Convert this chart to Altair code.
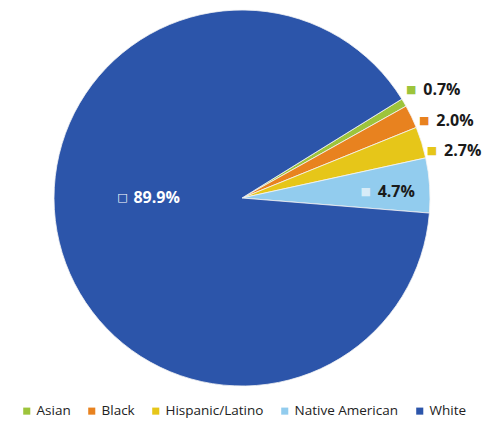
import math
import altair as alt
import pandas as pd

categories = ["Asian", "Black", "Hispanic/Latino", "Native American", "White"]
values = [0.7, 2.0, 2.7, 4.7, 89.9]
labels = ["0.7%", "2.0%", "2.7%", "4.7%", "89.9%"]
stack_order = [1, 2, 3, 4, 0]
colors = ["#9DC43B", "#E8821F", "#E6C619", "#92CCEE", "#2C55AA"]

df = pd.DataFrame({"cat": categories, "value": values, "label": labels, "ord": stack_order})

start = math.radians(94.6)
theta_scale = alt.Scale(domain=[0, 100], range=[start, start + 2 * math.pi])
color_scale = alt.Scale(domain=categories, range=colors)

FONT = "Open Sans"

base = alt.Chart(df)

arc = base.mark_arc(radius=188, stroke="#f4f4f4", strokeWidth=0.8).encode(
    theta=alt.Theta("value:Q", stack=True, scale=theta_scale),
    color=alt.Color(
        "cat:N",
        scale=color_scale,
        legend=alt.Legend(
            title=None,
            orient="none",
            direction="horizontal",
            legendX=12,
            legendY=395,
            symbolType="square",
            symbolSize=50,
            symbolStrokeWidth=0,
            labelFont=FONT,
            labelFontSize=13.5,
            labelColor="#222222",
            labelOffset=3,
            columnPadding=14,
        ),
    ),
    order=alt.Order("ord:Q"),
)

mids = base.transform_window(
    cum="sum(value)", sort=[alt.SortField("ord")], frame=[None, 0]
).transform_calculate(mid="datum.cum - datum.value / 2")


def label(cat, r, dx, dy, color, sq_color, sq_dx, align="left", sq_char="■"):
    sub = mids.transform_filter(alt.datum.cat == cat)
    txt = sub.mark_text(
        radius=r, dx=dx, dy=dy, align=align, baseline="middle",
        font=FONT, fontSize=16, fontWeight="bold", color=color,
    ).encode(
        theta=alt.Theta("mid:Q", stack=None, scale=theta_scale),
        text="label:N",
    )
    sq = sub.mark_text(
        radius=r, dx=dx + sq_dx, dy=dy, align="center", baseline="middle",
        font="DejaVu Sans", fontSize=11, color=sq_color,
    ).encode(
        theta=alt.Theta("mid:Q", stack=None, scale=theta_scale),
        text=alt.value(sq_char),
    )
    return [sq, txt]


layers = [arc]
layers += label("White", 87, -24, -20, "white", "white", -11, sq_char="□")
layers += label("Native American", 155, -19, 4, "#1a1a1a", "#d8ecf8", -12)
layers += label("Asian", 215, -4, 1, "#1a1a1a", colors[0], -12)
layers += label("Black", 200, 14, 10, "#1a1a1a", colors[1], -12)
layers += label("Hispanic/Latino", 200, 11, 12, "#1a1a1a", colors[2], -12)

chart = alt.layer(*layers).properties(
    width=468, height=378, padding=0
).configure_view(stroke=None).configure(background="white")

chart.save("out.html", embed_options={"renderer": "svg", "actions": False})
